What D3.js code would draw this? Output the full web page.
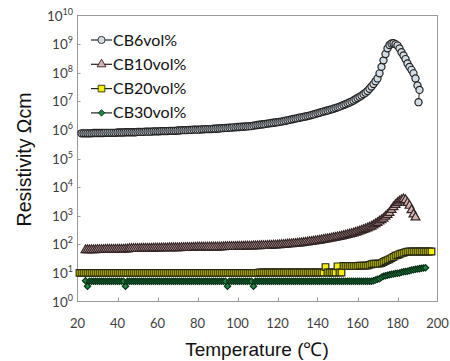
<!DOCTYPE html>
<html>
<head>
<meta charset="utf-8">
<script src="https://cdn.jsdelivr.net/npm/d3@7"></script>
<style>
  body { margin: 0; background: #fff; }
  svg { display: block; }
</style>
</head>
<body>
<svg id="chart" width="450" height="361"></svg>
<script>
// series: [temperature (°C), resistivity (Ω·cm)]
const cb6 = [
  [22,7.6e5],[23,7.6e5],[24,7.6e5],[25,7.6e5],[26,7.6e5],[27,7.6e5],[28,7.8e5],[29,7.8e5],[30,7.8e5],[31,7.8e5],
  [32,7.8e5],[33,7.8e5],[34,7.9e5],[35,7.9e5],[36,7.9e5],[37,7.9e5],[38,7.9e5],[39,7.9e5],[40,8.1e5],[41,8.1e5],
  [42,8.1e5],[43,8.1e5],[44,8.3e5],[45,8.3e5],[46,8.3e5],[47,8.3e5],[48,8.3e5],[49,8.3e5],[50,8.5e5],[51,8.5e5],
  [52,8.5e5],[53,8.5e5],[54,8.7e5],[55,8.7e5],[56,8.7e5],[57,8.7e5],[58,8.9e5],[59,8.9e5],[60,8.9e5],[61,8.9e5],
  [62,9.1e5],[63,9.1e5],[64,9.1e5],[65,9.1e5],[66,9.3e5],[67,9.3e5],[68,9.3e5],[69,9.3e5],[70,9.5e5],[71,9.5e5],
  [72,9.8e5],[73,9.8e5],[74,9.8e5],[75,9.8e5],[76,1.0e6],[77,1.0e6],[78,1.02e6],[79,1.02e6],[80,1.02e6],[81,1.02e6],
  [82,1.05e6],[83,1.05e6],[84,1.07e6],[85,1.07e6],[86,1.07e6],[87,1.07e6],[88,1.1e6],[89,1.1e6],[90,1.12e6],[91,1.12e6],
  [92,1.15e6],[93,1.15e6],[94,1.17e6],[95,1.17e6],[96,1.2e6],[97,1.2e6],[98,1.23e6],[99,1.23e6],[100,1.26e6],[101,1.26e6],
  [102,1.29e6],[103,1.29e6],[104,1.32e6],[105,1.32e6],[106,1.35e6],[107,1.35e6],[108,1.41e6],[109,1.44e6],[110,1.48e6],[111,1.51e6],
  [112,1.55e6],[113,1.58e6],[114,1.62e6],[115,1.66e6],[116,1.7e6],[117,1.74e6],[118,1.78e6],[119,1.82e6],[120,1.86e6],[121,1.9e6],
  [122,1.95e6],[123,2.02e6],[124,2.09e6],[125,2.16e6],[126,2.24e6],[127,2.32e6],[128,2.4e6],[129,2.48e6],[130,2.57e6],[131,2.66e6],
  [132,2.75e6],[133,2.85e6],[134,2.95e6],[135,3.05e6],[136,3.16e6],[137,3.3e6],[138,3.47e6],[139,3.63e6],[140,3.8e6],[141,3.98e6],
  [142,4.17e6],[143,4.37e6],[144,4.57e6],[145,4.78e6],[146,5.0e6],[147,5.25e6],[148,5.5e6],[149,5.8e6],[150,6.17e6],[151,6.5e6],
  [152,6.9e6],[153,7.4e6],[154,7.9e6],[155,8.5e6],[156,9.1e6],[157,9.8e6],[158,1.07e7],[159,1.18e7],[160,1.3e7],[161,1.43e7],
  [162,1.58e7],[163,1.78e7],[164,2.0e7],[165,2.3e7],[166,2.75e7],[167,3.3e7],[168,4.0e7],[169,5.0e7],[170,6.3e7],[171,9.5e7],
  [172,1.6e8],[173,2.7e8],[174,4.5e8],[175,7.1e8],[176,9.3e8],[177,1.05e9],[178,1.07e9],[179,1.0e9],[180,8.9e8],[181,7.1e8],
  [182,5.2e8],[183,4.0e8],[184,3.0e8],[185,2.1e8],[186,1.6e8],[187,1.26e8],[188,9.5e7],[189,6.3e7],[190,3.6e7],[191,2.5e7],
  [190.5,9.3e6]
];

const cb10 = [
  [24,63],[25,63],[26,63],[27,63],[28,63],[29,63],[30,64],[31,64],[32,64],[33,64],
  [34,65],[35,65],[36,65],[37,65],[38,65],[39,65],[40,66],[41,66],[42,66],[43,66],
  [44,67],[45,67],[46,69],[47,70],[48,70],[49,70],[50,70],[51,70],[52,71],[53,71],
  [54,71],[55,71],[56,71],[57,71],[58,72],[59,72],[60,72],[61,72],[62,73],[63,73],
  [64,73],[65,73],[66,74],[67,74],[68,74],[69,74],[70,74],[71,74],[72,75],[73,75],
  [74,76],[75,76],[76,76],[77,76],[78,77],[79,77],[80,78],[81,78],[82,78],[83,78],
  [84,78],[85,78],[86,79],[87,79],[88,79],[89,79],[90,79],[91,79],[92,80],[93,80],
  [94,81],[95,81],[96,82],[97,82],[98,82],[99,82],[100,83],[101,83],[102,84],[103,84],
  [104,85],[105,85],[106,85],[107,85],[108,86],[109,86],[110,87],[111,87],[112,88],[113,88],
  [114,89],[115,89],[116,90],[117,90],[118,92],[119,92],[120,93],[121,94],[122,95],[123,96],
  [124,98],[125,99],[126,101],[127,102],[128,104],[129,105],[130,107],[131,109],[132,111],[133,113],
  [134,116],[135,118],[136,121],[137,123],[138,126],[139,129],[140,132],[141,136],[142,140],[143,144],
  [144,148],[145,152],[146,157],[147,162],[148,167],[149,172],[150,178],[151,184],[152,190],[153,197],
  [154,205],[155,213],[156,222],[157,232],[158,243],[159,255],[160,269],[161,284],[162,300],[163,320],
  [164,340],[165,365],[166,390],[167,420],[168,460],[169,510],[170,562],[171,630],[172,700],[173,794],
  [174,930],[175,1080],[176,1260],[177,1600],[178,2000],[179,2400],[180,2820],[181,3200],[182,3550],[183,3800],
  [184,3550],[185,2820],[186,2240],[187,1580],[188,1120],[189,880]
];

const cb20 = [
  [21,10],[22,10],[23,10],[24,10],[25,10],[26,10],[27,10],[28,10],[29,10],[30,10],
  [31,10],[32,10],[33,10],[34,10],[35,10],[36,10],[37,10],[38,10],[39,10],[40,10],
  [41,10],[42,10],[43,10],[44,10],[45,10],[46,10],[47,10],[48,10],[49,10],[50,10],
  [51,10],[52,10],[53,10],[54,10],[55,10],[56,10],[57,10],[58,10],[59,10],[60,10],
  [61,10],[62,10],[63,10],[64,10],[65,10],[66,10],[67,10],[68,10],[69,10],[70,10],
  [71,10],[72,10],[73,10],[74,10],[75,10],[76,10],[77,10],[78,10],[79,10],[80,10],
  [81,10],[82,10],[83,10],[84,10],[85,10],[86,10],[87,10],[88,10],[89,10],[90,10],
  [91,10],[92,10],[93,10],[94,10],[95,10],[96,10],[97,10],[98,10],[99,10],[100,10],
  [101,10],[102,10],[103,10],[104,10],[105,10],[106,10],[107,10],[108,10],[109,10],[110,10],
  [111,10.3],[112,10.3],[113,10.3],[114,10.3],[115,10.3],[116,10.3],[117,10.3],[118,10.3],[119,10.3],[120,10.3],
  [121,10.3],[122,10.3],[123,10.3],[124,10.3],[125,10.3],[126,10.3],[127,10.3],[128,10.3],[129,10.3],[130,10.3],
  [131,10.3],[132,10.3],[133,10.3],[134,10.3],[135,10.3],[136,10.3],[137,10.3],[138,10.3],[139,10.3],[140,10.3],
  [141,10.3],[142,10.3],[143,10.3],[144,16],[145,10.3],[146,10.3],[147,10.3],[148,10.3],[149,10.3],[150,17],
  [151,10.3],[152,10.3],[153,17.5],[154,17.5],[155,17.5],[156,17.5],[157,17.5],[158,17.5],[159,17.5],[160,17.5],
  [161,18],[162,18],[163,18],[164,18],[165,18],[166,19],[167,20],[168,21],[169,21],[170,21],
  [171,21],[172,22],[173,24],[174,26],[175,28],[176,30],[177,33],[178,36],[179,40],[180,42],
  [181,45],[182,48],[183,50],[184,53],[185,55],[186,56],[187,56],[188,56],[189,56],[190,56],
  [191,56],[192,56],[193,56],[194,56],[195,56],[196,56],[197,56]
];

const cb30 = [
  [24,5.3],[25,3.4],[26,5.1],[27,5.1],[28,5.1],[29,5.1],[30,5.1],[31,5.1],[32,5.1],[33,5.1],
  [34,5.1],[35,5.1],[36,5.1],[37,5.1],[38,5.1],[39,5.1],[40,5.1],[41,5.1],[42,5.1],[43,5.1],
  [44,3.4],[45,5.1],[46,5.1],[47,5.1],[48,5.1],[49,5.1],[50,5.1],[51,5.1],[52,5.1],[53,5.1],
  [54,5.1],[55,5.1],[56,5.1],[57,5.1],[58,5.1],[59,5.1],[60,5.1],[61,5.1],[62,5.1],[63,5.1],
  [64,5.1],[65,5.1],[66,5.1],[67,5.1],[68,5.1],[69,5.1],[70,5.1],[71,5.1],[72,5.1],[73,5.1],
  [74,5.1],[75,5.1],[76,5.1],[77,5.1],[78,5.1],[79,5.1],[80,5.1],[81,5.1],[82,5.1],[83,5.1],
  [84,5.1],[85,5.1],[86,5.1],[87,5.1],[88,5.1],[89,5.1],[90,5.1],[91,5.1],[92,5.1],[93,5.1],
  [94,5.1],[95,3.4],[96,5.1],[97,5.1],[98,5.1],[99,5.1],[100,5.1],[101,5.1],[102,5.1],[103,5.1],
  [104,5.1],[105,5.1],[106,5.1],[107,5.1],[108,3.4],[109,5.1],[110,5.1],[111,5.1],[112,5.1],[113,5.1],
  [114,5.1],[115,5.1],[116,5.1],[117,5.1],[118,5.1],[119,5.1],[120,5.1],[121,5.1],[122,5.1],[123,5.1],
  [124,5.1],[125,5.1],[126,5.1],[127,5.1],[128,5.1],[129,5.1],[130,5.1],[131,5.1],[132,5.1],[133,5.1],
  [134,5.1],[135,5.1],[136,5.1],[137,5.1],[138,5.1],[139,5.1],[140,5.1],[141,5.1],[142,5.1],[143,5.1],
  [144,5.1],[145,5.1],[146,5.1],[147,5.1],[148,5.1],[149,5.1],[150,5.1],[151,5.1],[152,5.1],[153,5.1],
  [154,5.1],[155,5.1],[156,5.1],[157,5.1],[158,5.1],[159,5.1],[160,5.1],[161,5.1],[162,5.1],[163,5.1],
  [164,5.1],[165,5.1],[166,5.1],[167,5.1],[168,5.3],[169,5.6],[170,6.0],[171,6.3],[172,7.0],[173,7.6],
  [174,8.0],[175,8.3],[176,8.6],[177,8.9],[178,9.2],[179,9.5],[180,9.8],[181,10],[182,10.5],[183,11],
  [184,11.2],[185,11.5],[186,12],[187,12.6],[188,13],[189,13.5],[190,13.8],[191,14.1],[192,14.5],[193,14.8],
  [194,15.1]
];

const seriesNames = ["CB6vol%", "CB10vol%", "CB20vol%", "CB30vol%"];
const xTicks = [20, 40, 60, 80, 100, 120, 140, 160, 180, 200];
const yExponents = [0, 1, 2, 3, 4, 5, 6, 7, 8, 9, 10];

const styles = [
  { symbol: d3.symbolCircle, size: 40, rot: 0, fill: "#d3dde6", stroke: "#222" },
  { symbol: d3.symbolTriangle, size: 34, rot: 0, fill: "#d5b3b3", stroke: "#352525" },
  { symbol: d3.symbolSquare, size: 44, rot: 0, fill: "#f2f200", stroke: "#2a2a14" },
  { symbol: d3.symbolSquare, size: 20, rot: 45, fill: "#1f8a48", stroke: "#0b3318" }
];

const svg = d3.select("#chart");
const margin = { left: 77.5, right: 12.5, top: 15.5, bottom: 59.5 };
const W = 450, H = 361;

const x = d3.scaleLinear().domain([20, 200]).range([margin.left, W - margin.right]);
const y = d3.scaleLog().domain([1, 1e10]).range([H - margin.bottom, margin.top]);

// frame
svg.append("rect")
  .attr("x", margin.left).attr("y", margin.top)
  .attr("width", W - margin.left - margin.right)
  .attr("height", H - margin.top - margin.bottom)
  .attr("fill", "none").attr("stroke", "#9a9a9a").attr("stroke-width", 1);

// x ticks (inside)
const gx = svg.append("g").attr("font-family", "Lato, 'Open Sans', sans-serif").attr("font-size", 13).attr("fill", "#404040");
gx.selectAll("line").data(xTicks.slice(1, -1)).join("line")
  .attr("x1", d => Math.round(x(d)) + 0.5).attr("x2", d => Math.round(x(d)) + 0.5)
  .attr("y1", y(1)).attr("y2", y(1) - 4)
  .attr("stroke", "#9a9a9a");
gx.selectAll("text").data(xTicks).join("text")
  .attr("x", d => x(d)).attr("y", y(1) + 26)
  .attr("text-anchor", "middle")
  .text(d => d);

// y ticks
const gy = svg.append("g").attr("font-family", "Lato, 'Open Sans', sans-serif").attr("fill", "#404040");
gy.selectAll("line").data(yExponents.slice(1, -1)).join("line")
  .attr("x1", margin.left).attr("x2", margin.left + 3)
  .attr("y1", d => Math.round(y(Math.pow(10, d))) + 0.5).attr("y2", d => Math.round(y(Math.pow(10, d))) + 0.5)
  .attr("stroke", "#9a9a9a");
const yl = gy.selectAll("text").data(yExponents).join("text")
  .attr("x", 73).attr("y", d => y(Math.pow(10, d)) + 5)
  .attr("text-anchor", "end")
  .attr("font-size", 13.5);
yl.append("tspan").text("10");
yl.append("tspan").attr("font-size", 9).attr("dy", -6).text(d => d);

// series
const line = d3.line().x(d => x(d[0])).y(d => y(d[1]));
const allSeries = [cb6, cb10, cb20, cb30];

allSeries.forEach((data, i) => {
  const st = styles[i];
  const g = svg.append("g");
  g.append("path")
    .attr("d", line(data))
    .attr("fill", "none").attr("stroke", "#222").attr("stroke-width", 1);
  g.selectAll("path.m").data(data).join("path")
    .attr("class", "m")
    .attr("transform", d => `translate(${x(d[0])},${y(d[1])}) rotate(${st.rot})`)
    .attr("d", d3.symbol().type(st.symbol).size(st.size))
    .attr("fill", st.fill).attr("stroke", st.stroke).attr("stroke-width", 1.2);
});

// legend
const legend = svg.append("g").attr("font-family", "Lato, 'Open Sans', sans-serif").attr("font-size", 16);
seriesNames.forEach((name, i) => {
  const st = styles[i];
  const ly = 40 + i * 24.3;
  const row = legend.append("g").attr("transform", `translate(0,${ly})`);
  row.append("line").attr("x1", 91).attr("x2", 112).attr("stroke", "#222").attr("stroke-width", 1.2);
  row.append("path").attr("transform", `translate(101.5,0) rotate(${st.rot})`)
    .attr("d", d3.symbol().type(st.symbol).size(st.size))
    .attr("fill", st.fill).attr("stroke", st.stroke).attr("stroke-width", 0.9);
  row.append("text").attr("x", 113).attr("y", 5.5).attr("fill", "#111").text(name);
});

// axis titles
svg.append("text")
  .attr("transform", `translate(31,${(margin.top + H - margin.bottom) / 2 + 1}) rotate(-90)`)
  .attr("text-anchor", "middle")
  .attr("font-family", "'Liberation Sans', Arial, sans-serif")
  .attr("font-size", 19.5).attr("fill", "#111")
  .text("Resistivity Ωcm");

svg.append("text")
  .attr("x", 257).attr("y", 356)
  .attr("text-anchor", "middle")
  .attr("font-family", "'Liberation Sans', Arial, sans-serif")
  .attr("font-size", 19).attr("fill", "#111")
  .text("Temperature (℃)");
</script>
</body>
</html>
